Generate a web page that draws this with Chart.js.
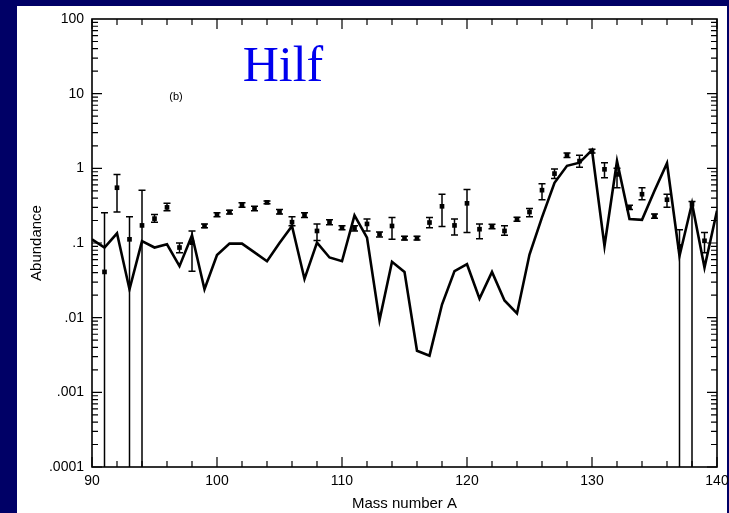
<!DOCTYPE html>
<html>
<head>
<meta charset="utf-8">
<script src="https://cdn.jsdelivr.net/npm/chart.js@4/dist/chart.umd.min.js"></script>
<style>
html, body { margin: 0; padding: 0; background: #000066; }
#wrap { width: 729px; height: 513px; }
</style>
</head>
<body>
<div id="wrap"><canvas id="myChart" width="729" height="513"></canvas></div>
<script>
// theory curve (solid line), one value per mass number
const massNumbers = [90, 91, 92, 93, 94, 95, 96, 97, 98, 99,
    100, 101, 102, 103, 104, 105, 106, 107, 108, 109,
    110, 111, 112, 113, 114, 115, 116, 117, 118, 119,
    120, 121, 122, 123, 124, 125, 126, 127, 128, 129,
    130, 131, 132, 133, 134, 135, 136, 137, 138, 139, 140];
const theory = [0.112, 0.087, 0.135, 0.024, 0.106, 0.087, 0.096, 0.049, 0.127, 0.024,
    0.069, 0.098, 0.098, 0.075, 0.057, 0.10, 0.169, 0.033, 0.101, 0.064,
    0.057, 0.235, 0.118, 0.0092, 0.056, 0.041, 0.0036, 0.0031, 0.015, 0.042,
    0.052, 0.018, 0.041, 0.017, 0.0114, 0.070, 0.22, 0.64, 1.08, 1.19,
    1.76, 0.091, 1.25, 0.21, 0.204, 0.50, 1.17, 0.067, 0.34, 0.047, 0.27];

// measured abundances with error bars
const obsMass = [91, 92, 93, 94, 95, 96, 97, 98, 99, 100,
    101, 102, 103, 104, 105, 106, 107, 108, 109, 110,
    111, 112, 113, 114, 115, 116, 117, 118, 119, 120,
    121, 122, 123, 124, 125, 126, 127, 128, 129, 130,
    131, 132, 133, 134, 135, 136, 137, 138, 139];
const obsValue = [0.041, 0.55, 0.112, 0.172, 0.212, 0.30, 0.087, 0.101, 0.169, 0.24,
    0.26, 0.32, 0.29, 0.35, 0.26, 0.19, 0.237, 0.145, 0.19, 0.16,
    0.157, 0.18, 0.131, 0.169, 0.116, 0.116, 0.188, 0.31, 0.172, 0.34,
    0.153, 0.166, 0.145, 0.208, 0.26, 0.51, 0.85, 1.5, 1.25, 1.7,
    0.97, 0.83, 0.30, 0.45, 0.23, 0.38, 0.09, 0.33, 0.107];
const obsLow = [0.00001, 0.26, 0.00001, 0.00001, 0.19, 0.27, 0.074, 0.042, 0.16, 0.225,
    0.245, 0.30, 0.27, 0.335, 0.245, 0.17, 0.22, 0.108, 0.175, 0.15,
    0.145, 0.145, 0.12, 0.112, 0.11, 0.11, 0.16, 0.166, 0.128, 0.138,
    0.114, 0.155, 0.127, 0.195, 0.225, 0.38, 0.73, 1.4, 1.03, 1.6,
    0.75, 0.55, 0.28, 0.38, 0.215, 0.30, 0.00001, 0.00001, 0.074];
const obsHigh = [0.255, 0.83, 0.225, 0.51, 0.24, 0.34, 0.10, 0.145, 0.18, 0.255,
    0.275, 0.345, 0.31, 0.365, 0.28, 0.225, 0.255, 0.18, 0.205, 0.17,
    0.17, 0.21, 0.14, 0.22, 0.123, 0.123, 0.22, 0.45, 0.21, 0.52,
    0.18, 0.178, 0.17, 0.222, 0.29, 0.62, 0.98, 1.6, 1.5, 1.8,
    1.19, 1.0, 0.32, 0.55, 0.245, 0.45, 0.15, 0.36, 0.138];

const xTickValues = [90, 100, 110, 120, 130, 140];
const xTickLabels = ['90', '100', '110', '120', '130', '140'];
const yTickValues = [0.0001, 0.001, 0.01, 0.1, 1, 10, 100];
const yTickLabels = ['.0001', '.001', '.01', '.1', '1', '10', '100'];

const ctx = document.getElementById('myChart').getContext('2d');
const tickFont = { family: "'Liberation Sans', Arial, sans-serif", size: 14 };
const titleFont = { family: "'Liberation Sans', Arial, sans-serif", size: 15 };

// navy slide background + white panel
const panelPlugin = {
    id: 'panel',
    beforeDraw(chart) {
        const c = chart.ctx;
        c.save();
        c.fillStyle = '#000066';
        c.fillRect(0, 0, chart.width, chart.height);
        c.fillStyle = '#ffffff';
        c.fillRect(17, 6, 710, 507);
        c.restore();
    }
};

// error bars for the measured points
const errorBarPlugin = {
    id: 'errorBars',
    afterDatasetsDraw(chart) {
        const c = chart.ctx;
        const xs = chart.scales.x;
        const ys = chart.scales.y;
        const area = chart.chartArea;
        c.save();
        c.beginPath();
        c.rect(area.left, area.top, area.right - area.left, area.bottom - area.top);
        c.clip();
        c.strokeStyle = '#000';
        c.lineWidth = 1.5;
        for (let i = 0; i < obsMass.length; i++) {
            const x = xs.getPixelForValue(obsMass[i]);
            const yHi = ys.getPixelForValue(obsHigh[i]);
            const yLo = obsLow[i] < 0.0001 ? area.bottom + 5 : ys.getPixelForValue(obsLow[i]);
            c.beginPath();
            c.moveTo(x, yHi);
            c.lineTo(x, yLo);
            c.moveTo(x - 3.5, yHi);
            c.lineTo(x + 3.5, yHi);
            if (obsLow[i] >= 0.0001) {
                c.moveTo(x - 3.5, yLo);
                c.lineTo(x + 3.5, yLo);
            }
            c.stroke();
        }
        c.restore();
    }
};

// frame, inward ticks and the two text labels
const framePlugin = {
    id: 'frame',
    afterDraw(chart) {
        const c = chart.ctx;
        const xs = chart.scales.x;
        const ys = chart.scales.y;
        const a = chart.chartArea;
        c.save();
        c.strokeStyle = '#000';
        c.lineWidth = 1.6;
        c.strokeRect(a.left, a.top, a.right - a.left, a.bottom - a.top);
        c.lineWidth = 1.2;
        c.beginPath();
        for (let m = 90; m <= 140; m += 2) {
            const x = xs.getPixelForValue(m);
            const len = m % 10 === 0 ? 10 : 6;
            c.moveTo(x, a.bottom);
            c.lineTo(x, a.bottom - len);
            c.moveTo(x, a.top);
            c.lineTo(x, a.top + len);
        }
        for (let e = -4; e < 2; e++) {
            for (let k = 1; k <= 9; k++) {
                const y = ys.getPixelForValue(k * Math.pow(10, e));
                const len = k === 1 ? 10 : 6;
                c.moveTo(a.left, y);
                c.lineTo(a.left + len, y);
                c.moveTo(a.right, y);
                c.lineTo(a.right - len, y);
            }
        }
        c.stroke();

        c.fillStyle = '#0000ee';
        c.font = "50px 'Liberation Serif', 'Times New Roman', serif";
        c.textAlign = 'center';
        c.textBaseline = 'alphabetic';
        c.fillText('Hilf', 283, 81);

        c.fillStyle = '#000';
        c.font = "11px 'Liberation Sans', Arial, sans-serif";
        c.textBaseline = 'middle';
        c.fillText('(b)', 176, 97);
        c.restore();
    }
};

const chart = new Chart(ctx, {
    type: 'line',
    data: {
        datasets: [{
            label: 'theory',
            data: massNumbers.map((m, i) => ({ x: m, y: theory[i] })),
            borderColor: '#000',
            borderWidth: 2.6,
            pointRadius: 0,
            tension: 0,
            fill: false
        }, {
            label: 'data',
            type: 'scatter',
            data: obsMass.map((m, i) => ({ x: m, y: obsValue[i] })),
            backgroundColor: '#000',
            borderColor: '#000',
            pointStyle: 'rect',
            pointRadius: 3.3,
            borderWidth: 0
        }]
    },
    options: {
        responsive: false,
        animation: false,
        devicePixelRatio: 1,
        layout: { padding: { left: 0, right: 12, top: 19, bottom: 0 } },
        plugins: {
            legend: { display: false },
            tooltip: { enabled: false }
        },
        scales: {
            x: {
                type: 'linear',
                min: 90,
                max: 140,
                afterBuildTicks: s => { s.ticks = xTickValues.map(v => ({ value: v })); },
                afterFit: s => { s.height = 46; s.paddingLeft = 0; s.paddingRight = 0; },
                ticks: {
                    callback: (v, i) => xTickLabels[i],
                    color: '#000',
                    font: tickFont,
                    padding: 6,
                    maxRotation: 0
                },
                grid: { display: false, drawTicks: false },
                border: { display: false },
                title: {
                    display: true,
                    text: 'Mass number A',
                    color: '#000',
                    font: titleFont,
                    padding: { top: 0, bottom: 0 }
                }
            },
            y: {
                type: 'logarithmic',
                min: 0.0001,
                max: 100,
                afterBuildTicks: s => { s.ticks = yTickValues.map(v => ({ value: v })); },
                afterFit: s => { s.width = 92; s.paddingTop = 0; s.paddingBottom = 0; },
                ticks: {
                    callback: (v, i) => yTickLabels[i],
                    color: '#000',
                    font: tickFont,
                    padding: 8
                },
                grid: { display: false, drawTicks: false },
                border: { display: false },
                title: {
                    display: true,
                    text: 'Abundance',
                    color: '#000',
                    font: titleFont,
                    padding: { top: 28, bottom: 0 }
                }
            }
        }
    },
    plugins: [panelPlugin, errorBarPlugin, framePlugin]
});
</script>
</body>
</html>
